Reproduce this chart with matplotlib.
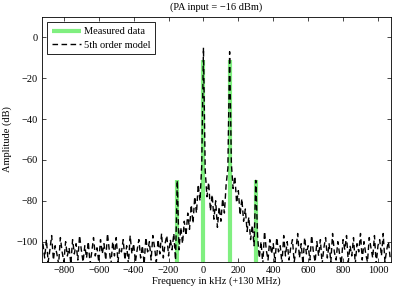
import numpy as np
import matplotlib
matplotlib.use("Agg")
import matplotlib.pyplot as plt

plt.rcParams['font.family'] = ['Liberation Serif', 'DejaVu Serif']
plt.rcParams['font.size'] = 7.5

# measured tones (kHz offset from 130 MHz, dB)
measuredFreq = [-150, 0, 150, 300]
measuredLevel = [-70, -11, -11, -70]
measuredFloor = -120

# 5th order model spectrum, 10 kHz bins from -920 to 1070 kHz
floorLeft = [
    -101, -108, -99, -110, -104, -97, -109, -102, -106, -111,
    -98, -105, -110, -100, -107, -103, -111, -99, -106, -101,
    -109, -97, -104, -110, -102, -108, -100, -111, -105, -98,
    -107, -103, -110, -99, -106, -101, -109, -96, -104, -111,
    -100, -107, -98, -110, -103, -105, -99, -109, -102, -111,
    -97, -106, -101, -110, -104, -99, -108, -102, -111, -98,
    -105, -100, -109, -97, -103, -110, -99, -106, -96, -108,
    -101, -97, -107, -99, -104, -96, -109,
]
sideToneModel = -70
skirtLeft = [-104, -93, -101, -90, -97, -86, -94, -82, -91, -78, -86, -72, -80, -63]
peakZero = -5
dip = [-65, -78, -71, -85, -77, -89, -80, -93, -83, -90, -79, -86, -72, -64]
peak150 = -7
skirtRight = [-62, -74, -68, -81, -75, -87, -79, -90, -84, -95, -88, -99, -92, -102]
floorRight = [
    -97, -108, -100, -111, -95, -104, -109, -99, -106, -101,
    -110, -98, -105, -102, -111, -97, -107, -100, -109, -103,
    -99, -110, -104, -96, -108, -101, -111, -98, -106, -102,
    -109, -97, -105, -110, -100, -107, -99, -111, -103, -98,
    -108, -101, -110, -96, -105, -109, -100, -106, -111, -99,
    -104, -97, -110, -102, -107, -98, -111, -101, -105, -96,
    -109, -100, -106, -110, -98, -103, -108, -97, -111, -102,
    -99, -107, -96, -110, -104, -100, -108,
]

modelFreq = np.arange(-920, 1080, 10)
modelLevel = (floorLeft + [sideToneModel] + skirtLeft + [peakZero] + dip
              + [peak150] + skirtRight + [sideToneModel] + floorRight)

fig = plt.figure(figsize=(3.93, 2.88), dpi=100)
ax = fig.add_axes([0.107, 0.090, 0.888, 0.851])

ax.vlines(measuredFreq, measuredFloor, measuredLevel, color='#80ef80',
          linewidth=3.0, label='Measured data')
ax.plot(modelFreq, modelLevel, color='k', linestyle='--', linewidth=1.0,
        dashes=(4, 2.5), label='5th order model')

ax.set_xlim(-925, 1075)
ax.set_ylim(-110, 10)
ax.set_xticks(range(-800, 1001, 200))
ax.set_yticks(range(-100, 1, 20))
ax.tick_params(direction='in', top=True, right=True, length=3, width=0.5, pad=3)
for s in ax.spines.values():
    s.set_linewidth(0.6)

ax.set_xlabel("Frequency in kHz (+130 MHz)", labelpad=1)
ax.set_ylabel("Amplitude (dB)", labelpad=3)
ax.set_title("(PA input = \u221216 dBm)", fontsize=7.5, pad=5)

leg = ax.legend(loc='upper left', fancybox=False, edgecolor='k',
                borderaxespad=0.5, handlelength=2.8, borderpad=0.45,
                labelspacing=0.4, handletextpad=0.3, framealpha=1)
leg.get_frame().set_linewidth(0.6)

fig.savefig("out.png", dpi=100)
